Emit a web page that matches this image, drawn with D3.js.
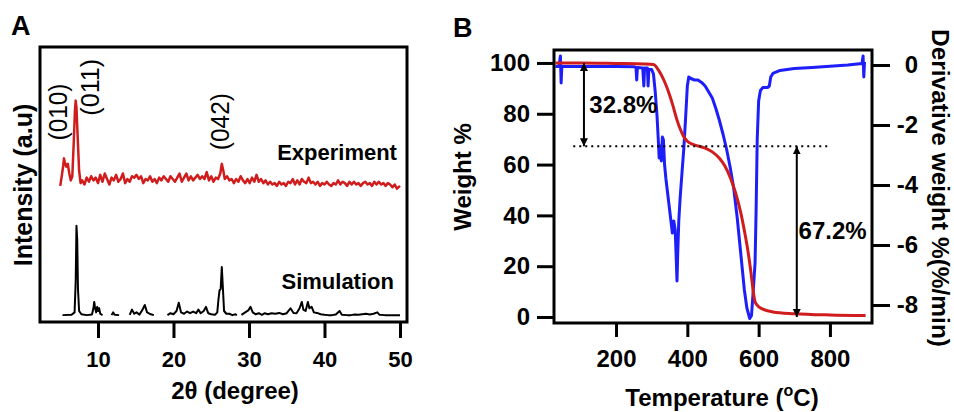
<!DOCTYPE html>
<html>
<head>
<meta charset="utf-8">
<script src="https://cdn.jsdelivr.net/npm/d3@7"></script>
<style>
  body { margin: 0; background: #fff; }
  svg { display: block; font-family: "Liberation Sans", Arial, sans-serif; }
  .tick line { stroke: #000; stroke-width: 3; }
  .tick text { font-weight: bold; fill: #000; }
</style>
</head>
<body>
<svg width="954" height="412"></svg>
<script>
// ---- panel A : XRD (2theta, intensity a.u.) ----
var experiment = [
  [5.0,49.5],[5.2,53],[5.4,57],[5.5,59.5],[5.6,58],[5.8,56.5],[6.0,57.5],[6.2,54],[6.4,51.5],[6.6,53],
  [6.8,66],[6.95,77],[7.05,80.5],[7.15,78],[7.3,68],[7.5,55],[7.7,50.5],[7.9,51.5],[8.2,50],[8.5,52.5],
  [8.8,51],[9.1,53],[9.4,51.5],[9.7,52.5],[10.0,50.5],[10.3,53.5],[10.6,51],[10.9,54],[11.2,52],[11.5,50],
  [11.8,52.5],[12.1,51.5],[12.4,53.5],[12.7,51],[13.0,52],[13.3,54],[13.6,50.5],[13.9,52],[14.2,51],[14.5,53],
  [14.8,52.5],[15.1,53.5],[15.4,52],[15.7,53],[16.0,50.5],[16.3,52],[16.6,51.5],[16.9,53],[17.2,51],[17.5,52],
  [17.8,50.5],[18.1,52.5],[18.4,51.5],[18.7,53],[19.0,52],[19.3,51],[19.6,53],[19.9,52],[20.2,51],[20.5,52.5],
  [20.8,54],[21.1,51],[21.4,52.5],[21.7,54],[22.0,51.5],[22.3,53],[22.6,51.5],[22.9,52.5],[23.2,53.5],[23.5,52],
  [23.8,53],[24.1,52],[24.4,54.5],[24.7,51.5],[25.0,53],[25.3,51],[25.6,52.5],[25.9,52],[26.2,54],[26.4,57.5],
  [26.6,55],[26.8,52],[27.1,53],[27.4,51.5],[27.7,52],[28.0,50.5],[28.3,52],[28.6,51],[28.9,53],[29.2,51.5],
  [29.5,50.5],[29.8,52],[30.1,50.5],[30.4,52.5],[30.7,51],[31.0,53.5],[31.3,51],[31.6,52],[31.9,50.5],[32.2,51.5],
  [32.5,50],[32.8,51],[33.1,50],[33.4,50.5],[33.7,49.5],[34.0,51],[34.3,50],[34.6,50.5],[34.9,49.5],[35.2,51],
  [35.5,50.5],[35.8,52],[36.1,50],[36.4,51.5],[36.7,50],[37.0,52],[37.3,51],[37.6,50.5],[37.9,52.5],[38.2,50.5],
  [38.5,51],[38.8,50],[39.1,51],[39.4,49.5],[39.7,50.5],[40.0,50],[40.3,51],[40.6,50],[40.9,49.5],[41.2,50.5],
  [41.5,50],[41.8,51.5],[42.1,50],[42.4,51],[42.7,50.5],[43.0,49.5],[43.3,51],[43.6,50],[43.9,51],[44.2,50],
  [44.5,50.5],[44.8,49.5],[45.1,50.5],[45.4,51],[45.7,50],[46.0,50.5],[46.3,49.5],[46.6,51],[46.9,50],[47.2,51],
  [47.5,50],[47.8,50.5],[48.1,49.5],[48.4,50.5],[48.7,50],[49.0,49],[49.3,50],[49.6,48.5],[50.0,49.5]
];

var simulation = [
  [5.3,2.5],[6.5,2.6],[6.9,3.5],[7.05,15],[7.15,35],[7.25,30],[7.35,12],[7.5,4],[7.8,2.8],[8.5,2.5],
  [9.2,2.7],[9.4,5],[9.5,7.3],[9.6,5.5],[9.75,3.5],[9.9,5.5],[10.0,4],[10.15,5],[10.3,3],[10.6,2.5],
  [11.2,null],[11.8,2.5],[12.0,3.5],[12.2,2.6],[12.8,2.5],[13.6,null],[14.2,2.6],[14.5,4.5],[14.8,3],[15.1,3.5],
  [15.5,2.7],[15.9,4.5],[16.2,6.2],[16.5,3.5],[17.0,2.8],[17.4,2.5],[18.0,null],[18.3,2.5],[18.6,null],[19.2,2.5],
  [19.6,3.2],[20.0,2.8],[20.4,4],[20.7,7],[21.0,3.5],[21.4,3],[21.8,3.8],[22.2,3.2],[22.6,3.8],[23.0,3.2],
  [23.3,4.5],[23.6,3.2],[24.0,4],[24.3,5.5],[24.6,3.2],[25.0,2.8],[25.5,2.6],[25.8,3.5],[25.95,8],[26.1,11.5],
  [26.25,12],[26.4,20],[26.55,12],[26.7,4],[27.0,3],[27.4,3],[27.8,2.5],[28.2,2.8],[28.4,2.5],[28.7,null],
  [29.0,2.6],[29.5,3.5],[29.9,4.2],[30.2,5.5],[30.5,3.5],[30.9,2.8],[31.3,3.2],[31.7,2.6],[32.1,3.2],[32.5,2.8],
  [33.0,3.2],[33.5,3],[34.0,3.3],[34.5,2.8],[35.0,3.2],[35.5,5],[35.9,3.3],[36.3,3.2],[36.7,5],[37.0,7.3],
  [37.2,4.5],[37.5,4],[37.8,7.3],[38.0,5],[38.3,5.5],[38.6,3.5],[39.0,3.3],[39.5,2.8],[40.0,2.6],[40.5,2.5],
  [41.0,2.5],[41.5,2.7],[42.0,4],[42.3,2.6],[43.0,2.5],[43.5,2.5],[44.0,2.7],[44.5,2.6],[45.0,2.8],[45.5,3],
  [46.0,2.7],[46.5,3],[47.0,3.5],[47.3,2.6],[48.0,2.5],[49.0,2.5],[50.0,2.5]
];

var xrdTicks = [10, 20, 30, 40, 50];
var peakLabels = [
  {text: "(010)", x: 5.9, y: 66},
  {text: "(011)", x: 10.1, y: 75},
  {text: "(042)", x: 27.4, y: 62.5}
];
var seriesLabels = [
  {text: "Experiment", x: 49.6, y: 59},
  {text: "Simulation", x: 49.2, y: 12}
];

// ---- panel B : TGA (temperature, weight %, derivative %/min) ----
var weight = [
  [30,100],[100,100],[200,99.8],[280,99.6],[305,99.4],[320,97],[335,93],[350,87.5],[360,83],[370,78],
  [380,74],[390,71],[400,69.2],[415,68],[430,67.3],[450,66.5],[470,65],[490,62.5],[505,59.5],[520,55],
  [535,49],[550,41],[560,34],[570,26],[578,18],[585,10],[590,6],[597,4.5],[610,3.2],[640,2],
  [700,1.3],[800,0.8],[900,0.6]
];

var derivative = [
  [30,-0.05],[40,-0.05],[44,0.3],[46,-0.6],[48,-0.05],[100,-0.05],[150,-0.05],[200,-0.05],[250,-0.06],[256,-0.08],
  [258,-0.5],[260,-0.08],[275,-0.1],[278,-0.7],[280,-0.1],[288,-0.1],[290,-0.7],[292,-0.15],[300,-0.15],[305,-0.3],
  [310,-0.9],[315,-1.7],[319,-2.6],[321,-3.1],[324,-2.7],[327,-3.2],[330,-2.4],[333,-2.5],[336,-3.3],[340,-3.8],
  [345,-4.3],[350,-4.8],[355,-5.3],[358,-5.6],[362,-5.2],[366,-5.5],[369,-6.5],[371,-7.2],[373,-6.3],[376,-5.2],
  [380,-4.4],[385,-3.6],[390,-2.8],[395,-1.8],[400,-0.7],[404,-0.4],[410,-0.45],[420,-0.5],[430,-0.5],[440,-0.58],
  [450,-0.7],[460,-0.9],[470,-1.1],[480,-1.45],[490,-1.85],[500,-2.3],[510,-2.8],[520,-3.4],[530,-4.1],[540,-5.1],
  [550,-6.3],[560,-7.5],[567,-8.1],[575,-8.45],[580,-8.35],[585,-7.5],[590,-6.6],[593,-4.8],[596,-2.5],[600,-1.2],
  [605,-0.85],[612,-0.75],[625,-0.75],[630,-0.7],[634,-0.4],[640,-0.28],[660,-0.18],[700,-0.12],[750,-0.08],[800,-0.04],
  [850,0.0],[890,0.05],[893,0.3],[895,-0.4],[897,0.1]
];

var tempTicks = [200, 400, 600, 800];
var weightTicks = [0, 20, 40, 60, 80, 100];
var derivTicks = [0, -2, -4, -6, -8];
var residue = 67.2;          // weight % where first step ends
var lossLabels = ["32.8%", "67.2%"];

var svg = d3.select("svg");
var red = "#d01c1c", blue = "#1e1efa";

// arrow head marker
var defs = svg.append("defs");
defs.append("marker")
    .attr("id", "arr")
    .attr("viewBox", "0 0 10 10")
    .attr("refX", 10).attr("refY", 5)
    .attr("markerWidth", 8).attr("markerHeight", 14)
    .attr("markerUnits", "userSpaceOnUse")
    .attr("orient", "auto-start-reverse")
  .append("path")
    .attr("d", "M0,0 L10,5 L0,10 Z")
    .attr("fill", "#000");

// ================= panel A =================
var xA = d3.scaleLinear().domain([2.32, 50.93]).range([40, 407]);
var yA = d3.scaleLinear().domain([0, 100]).range([322, 47]);

var gA = svg.append("g");

gA.append("g")
    .attr("transform", "translate(0,322)")
    .call(d3.axisBottom(xA).tickValues(xrdTicks).tickSize(16).tickPadding(13))
    .call(g => g.select(".domain").remove())
    .selectAll("text").style("font-size", "22px");

var lineA = d3.line()
    .defined(d => d[1] !== null)
    .x(d => xA(d[0]))
    .y(d => yA(d[1]));

gA.append("path")
    .datum(experiment)
    .attr("fill", "none")
    .attr("stroke", red)
    .attr("stroke-width", 2.5)
    .attr("stroke-linejoin", "round")
    .attr("d", lineA);

gA.append("path")
    .datum(simulation)
    .attr("fill", "none")
    .attr("stroke", "#000")
    .attr("stroke-width", 2)
    .attr("stroke-linejoin", "round")
    .attr("d", lineA);

gA.append("rect")
    .attr("x", 40).attr("y", 47)
    .attr("width", 367).attr("height", 275)
    .attr("fill", "none").attr("stroke", "#000").attr("stroke-width", 3);

gA.selectAll(".peak")
    .data(peakLabels)
    .enter().append("text")
    .attr("transform", d => "translate(" + xA(d.x) + "," + yA(d.y) + ") rotate(-90)")
    .attr("font-size", 25)
    .attr("textLength", 57)
    .attr("lengthAdjust", "spacingAndGlyphs")
    .text(d => d.text);

gA.selectAll(".slabel")
    .data(seriesLabels)
    .enter().append("text")
    .attr("x", d => xA(d.x))
    .attr("y", d => yA(d.y))
    .attr("text-anchor", "end")
    .attr("font-size", 22)
    .attr("font-weight", "bold")
    .text(d => d.text);

gA.append("text")
    .attr("x", 235).attr("y", 399)
    .attr("text-anchor", "middle")
    .attr("font-size", 24).attr("font-weight", "bold")
    .text("2θ (degree)");

gA.append("text")
    .attr("transform", "translate(32,185) rotate(-90)")
    .attr("text-anchor", "middle")
    .attr("font-size", 25).attr("font-weight", "bold")
    .text("Intensity (a.u)");

svg.append("text")
    .attr("x", 11).attr("y", 35)
    .attr("font-size", 27).attr("font-weight", "bold")
    .text("A");

// ================= panel B =================
var xB = d3.scaleLinear().domain([26, 918]).range([554, 872]);
var yL = d3.scaleLinear().domain([-2.36, 105.1]).range([323, 50]);
var yR = d3.scaleLinear().domain([-8.6, 0.5]).range([323, 50]);

var gB = svg.append("g");

gB.append("g")
    .attr("transform", "translate(0,323)")
    .call(d3.axisBottom(xB).tickValues(tempTicks).tickSize(14).tickPadding(13))
    .call(g => g.select(".domain").remove())
    .selectAll("text").style("font-size", "24px");

gB.append("g")
    .attr("transform", "translate(554,0)")
    .call(d3.axisLeft(yL).tickValues(weightTicks).tickSize(17).tickPadding(7))
    .call(g => g.select(".domain").remove())
    .selectAll("text").style("font-size", "24px");

gB.append("g")
    .attr("transform", "translate(872,0)")
    .call(d3.axisRight(yR).tickValues(derivTicks).tickSize(18).tickFormat(d => String(d)))
    .call(g => g.select(".domain").remove())
    .selectAll("text")
      .style("font-size", "24px")
      .attr("text-anchor", "end")
      .attr("x", 46);

gB.append("path")
    .datum(derivative)
    .attr("fill", "none")
    .attr("stroke", blue)
    .attr("stroke-width", 3)
    .attr("stroke-linejoin", "round")
    .attr("d", d3.line().x(d => xB(d[0])).y(d => yR(d[1])));

gB.append("path")
    .datum(weight)
    .attr("fill", "none")
    .attr("stroke", red)
    .attr("stroke-width", 3)
    .attr("d", d3.line().curve(d3.curveMonotoneX).x(d => xB(d[0])).y(d => yL(d[1])));

// dotted residue line and arrows
gB.append("line")
    .attr("x1", xB(80)).attr("x2", xB(800))
    .attr("y1", yL(residue)).attr("y2", yL(residue))
    .attr("stroke", "#000").attr("stroke-width", 2)
    .attr("stroke-dasharray", "2,4");

gB.append("line")
    .attr("x1", xB(110)).attr("x2", xB(110))
    .attr("y1", yL(100)).attr("y2", yL(residue))
    .attr("stroke", "#000").attr("stroke-width", 2)
    .attr("marker-start", "url(#arr)").attr("marker-end", "url(#arr)");

gB.append("line")
    .attr("x1", xB(707)).attr("x2", xB(707))
    .attr("y1", yL(residue)).attr("y2", yL(0))
    .attr("stroke", "#000").attr("stroke-width", 2)
    .attr("marker-start", "url(#arr)").attr("marker-end", "url(#arr)");

gB.append("text")
    .attr("x", xB(125)).attr("y", yL(80.3))
    .attr("font-size", 24).attr("font-weight", "bold")
    .text(lossLabels[0]);

gB.append("text")
    .attr("x", xB(712)).attr("y", yL(30.7))
    .attr("font-size", 24).attr("font-weight", "bold")
    .text(lossLabels[1]);

gB.append("rect")
    .attr("x", 554).attr("y", 50)
    .attr("width", 318).attr("height", 273)
    .attr("fill", "none").attr("stroke", "#000").attr("stroke-width", 3);

var tLabel = gB.append("text")
    .attr("x", 722).attr("y", 406)
    .attr("text-anchor", "middle")
    .attr("font-size", 24).attr("font-weight", "bold");
tLabel.append("tspan").text("Temperature (");
tLabel.append("tspan").attr("font-size", 16).attr("dy", -10).text("o");
tLabel.append("tspan").attr("dy", 10).text("C)");

gB.append("text")
    .attr("transform", "translate(471,177) rotate(-90)")
    .attr("text-anchor", "middle")
    .attr("font-size", 24).attr("font-weight", "bold")
    .text("Weight %");

gB.append("text")
    .attr("transform", "translate(932,188) rotate(90)")
    .attr("text-anchor", "middle")
    .attr("font-size", 23).attr("font-weight", "bold")
    .attr("textLength", 318)
    .attr("lengthAdjust", "spacingAndGlyphs")
    .text("Derivative weight %(%/min)");

svg.append("text")
    .attr("x", 453).attr("y", 37)
    .attr("font-size", 27).attr("font-weight", "bold")
    .text("B");
</script>
</body>
</html>
